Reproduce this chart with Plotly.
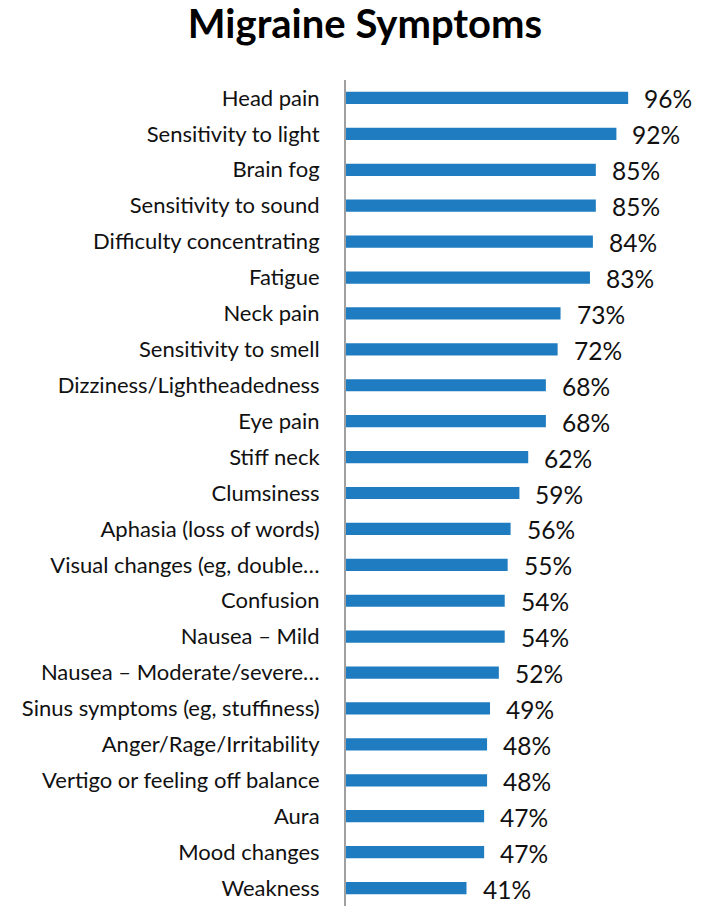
import plotly.graph_objects as go

symptoms = [
    "Head pain", "Sensitivity to light", "Brain fog", "Sensitivity to sound",
    "Difficulty concentrating", "Fatigue", "Neck pain", "Sensitivity to smell",
    "Dizziness/Lightheadedness", "Eye pain", "Stiff neck", "Clumsiness",
    "Aphasia (loss of words)", "Visual changes (eg, double…", "Confusion",
    "Nausea – Mild", "Nausea – Moderate/severe…", "Sinus symptoms (eg, stuffiness)",
    "Anger/Rage/Irritability", "Vertigo or feeling off balance", "Aura",
    "Mood changes", "Weakness",
]
percents = [96, 92, 85, 85, 84, 83, 73, 72, 68, 68, 62, 59, 56, 55, 54, 54, 52,
            49, 48, 48, 47, 47, 41]

BAR_COLOR = "#1f7cc0"
FONT = "Lato, Carlito, Calibri, sans-serif"

fig = go.Figure(
    go.Bar(
        x=percents,
        y=symptoms,
        orientation="h",
        marker=dict(color=BAR_COLOR, line=dict(width=0)),
        width=0.34,
        hoverinfo="x+y",
    )
)

for name, val in zip(symptoms, percents):
    fig.add_annotation(
        x=val, y=name, text=f"{val}%", showarrow=False,
        xanchor="left", yanchor="middle", xshift=14, yshift=-1,
        font=dict(family=FONT, size=24.5, color="#111111"),
    )

fig.update_layout(
    width=704, height=907,
    margin=dict(l=346, r=0, t=80, b=1),
    paper_bgcolor="white", plot_bgcolor="white",
    title=dict(
        text="<b>Migraine Symptoms</b>",
        x=365 / 704, xanchor="center", y=1 - 24 / 907, yanchor="middle",
        font=dict(family=FONT, size=40, color="#000000"),
    ),
    showlegend=False,
    font=dict(family=FONT),
)
fig.update_xaxes(range=[0, 121.8], visible=False, fixedrange=True)
fig.update_yaxes(
    categoryorder="array", categoryarray=symptoms,
    range=[len(symptoms) - 0.5, -0.5],
    showline=True, linecolor="#a0a0a0", linewidth=2,
    showgrid=False, zeroline=False, ticks="",
    ticklabelstandoff=20,
    tickfont=dict(family=FONT, size=22, color="#111111"),
)

fig.write_html("out.html")
